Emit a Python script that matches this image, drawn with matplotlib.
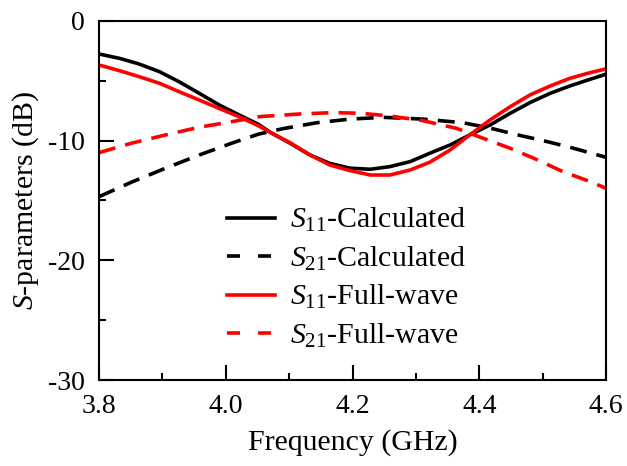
import numpy as np
import matplotlib
matplotlib.use("Agg")
import matplotlib.pyplot as plt
from matplotlib.lines import Line2D
from matplotlib.ticker import MultipleLocator, FormatStrFormatter

plt.rcParams['font.family'] = 'Liberation Serif'
plt.rcParams['mathtext.fontset'] = 'custom'
plt.rcParams['mathtext.rm'] = 'Liberation Serif'
plt.rcParams['mathtext.it'] = 'Liberation Serif:italic'
plt.rcParams['axes.unicode_minus'] = False

# S11, calculated (frequency in GHz, magnitude in dB)
f_s11_calc = [3.800, 3.832, 3.863, 3.895, 3.926, 3.958, 3.989, 4.021, 4.052,
              4.070, 4.101, 4.133, 4.164, 4.196, 4.228, 4.259, 4.291, 4.322,
              4.354, 4.385, 4.417, 4.449, 4.480, 4.512, 4.543, 4.575, 4.600]
s11_calc = [-2.76, -3.12, -3.59, -4.23, -5.07, -6.04, -7.0, -7.85, -8.65,
            -9.3, -10.2, -11.2, -11.9, -12.3, -12.39, -12.17, -11.75, -11.05,
            -10.36, -9.52, -8.69, -7.71, -6.82, -6.04, -5.43, -4.87, -4.45]

# S11, full-wave simulation
f_s11_fw = f_s11_calc
s11_fw = [-3.68, -4.15, -4.65, -5.2, -5.9, -6.6, -7.3, -8.0, -8.77,
          -9.3, -10.16, -11.2, -12.03, -12.5, -12.87, -12.87, -12.45, -11.8,
          -10.78, -9.52, -8.27, -7.16, -6.18, -5.43, -4.79, -4.32, -4.0]

# S21, calculated
f_s21_calc = [3.800, 3.852, 3.905, 3.958, 4.010, 4.052, 4.090, 4.144, 4.196,
              4.248, 4.311, 4.374, 4.417, 4.459, 4.501, 4.543, 4.600]
s21_calc = [-14.68, -13.45, -12.3, -11.2, -10.2, -9.45, -9.0, -8.5, -8.2,
            -8.05, -8.2, -8.5, -8.95, -9.5, -10.0, -10.55, -11.39]

# S21, full-wave simulation
f_s21_fw = [3.800, 3.852, 3.905, 3.958, 4.010, 4.054, 4.117, 4.169, 4.212,
            4.259, 4.311, 4.364, 4.406, 4.449, 4.490, 4.532, 4.575, 4.600]
s21_fw = [-11.0, -10.2, -9.52, -8.88, -8.41, -7.99, -7.77, -7.66, -7.71,
          -7.94, -8.33, -8.97, -9.8, -10.64, -11.56, -12.59, -13.42, -13.98]

labels = ['$S_{11}$-Calculated', '$S_{21}$-Calculated',
          '$S_{11}$-Full-wave', '$S_{21}$-Full-wave']

fig = plt.figure(figsize=(6.27, 4.66), dpi=100)
ax = fig.add_axes([0.158, 0.1845, 0.8085, 0.7705])

lw = 2.6
dash = (4.7, 2.8)
ax.plot(f_s11_calc, s11_calc, color='black', lw=lw)
ax.plot(f_s21_calc, s21_calc, color='black', lw=lw, dashes=dash)
ax.plot(f_s11_fw, s11_fw, color='red', lw=lw)
ax.plot(f_s21_fw, s21_fw, color='red', lw=lw, dashes=dash)

ax.set_xlim(3.8, 4.6)
ax.set_ylim(-30, 0)
ax.xaxis.set_major_locator(MultipleLocator(0.2))
ax.xaxis.set_minor_locator(MultipleLocator(0.1))
ax.yaxis.set_major_locator(MultipleLocator(10))
ax.yaxis.set_minor_locator(MultipleLocator(5))
ax.xaxis.set_major_formatter(FormatStrFormatter('%.1f'))
ax.tick_params(which='both', direction='in', top=False, right=False,
               labelsize=20, width=1.5)
ax.tick_params(which='major', length=11, pad=10)
ax.tick_params(which='minor', length=5)
for sp in ax.spines.values():
    sp.set_linewidth(1.5)

ax.set_xlabel('Frequency (GHz)', fontsize=21.5, labelpad=7)
ax.set_ylabel('$S$-parameters (dB)', fontsize=21.5, labelpad=5)

# legend handles use a sparser dash pattern than the curves
leg_dash = (3.6, 5.0)
handles = [Line2D([], [], color='black', lw=lw),
           Line2D([], [], color='black', lw=lw, dashes=leg_dash),
           Line2D([], [], color='red', lw=lw),
           Line2D([], [], color='red', lw=lw, dashes=leg_dash)]
ax.legend(handles, labels, loc='center left', bbox_to_anchor=(0.252, 0.284),
          frameon=False, fontsize=21.5, handlelength=1.6, handletextpad=0.5,
          labelspacing=0.35, borderpad=0, borderaxespad=0)

fig.savefig('out.png', dpi=100)
